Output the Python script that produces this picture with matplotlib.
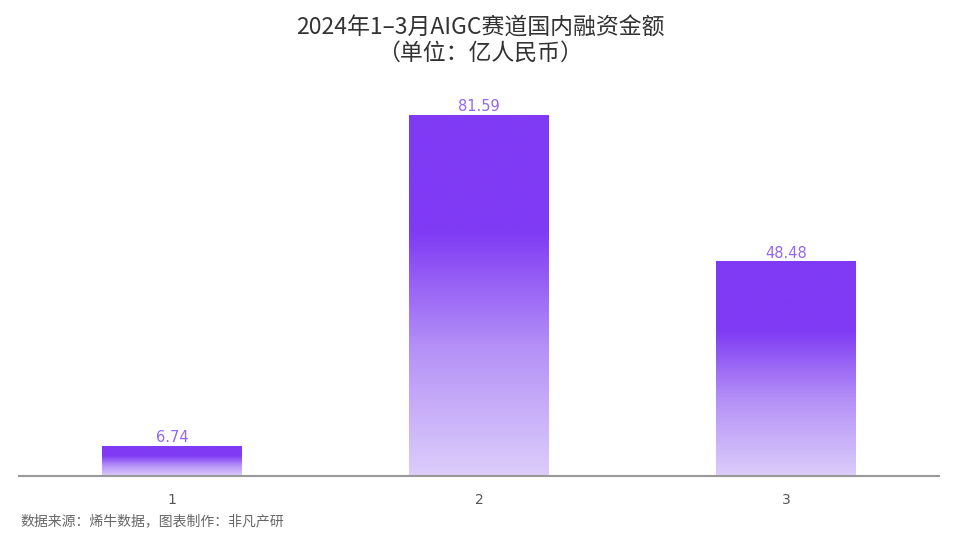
import matplotlib
matplotlib.use("Agg")
import matplotlib.pyplot as plt
import numpy as np
from matplotlib.colors import LinearSegmentedColormap

plt.rcParams['font.family'] = ['Noto Sans CJK SC', 'DejaVu Sans']

categories = ["1", "2", "3"]
values = [6.74, 81.59, 48.48]
title = "2024年1–3月AIGC赛道国内融资金额\n（单位：亿人民币）"
source = "数据来源：烯牛数据，图表制作：非凡产研"

fig = plt.figure(figsize=(9.6, 5.57), dpi=100)
ax = fig.add_axes([0.0195, 0.1454, 0.959, 0.7146])

cmap = LinearSegmentedColormap.from_list(
    "grad", [(0.0, "#DCCDFB"), (0.35, "#B592F7"), (0.68, "#7F3AF4"), (1.0, "#7F3AF4")])
grad = np.linspace(0, 1, 256).reshape(-1, 1)

x = np.arange(len(categories))
width = 0.455
bars = ax.bar(x, values, width=width, color="none", edgecolor="none")
for b, v in zip(bars, values):
    x0 = b.get_x()
    ax.imshow(grad, extent=[x0, x0 + width, 0, v], origin="lower", cmap=cmap,
              aspect="auto", zorder=2, interpolation="bicubic")
    ax.text(b.get_x() + width / 2, v + 0.2, f"{v:.2f}", ha="center", va="bottom",
            color="#9466F5", fontsize=10.5, family="DejaVu Sans", zorder=3)

ax.set_xlim(-0.5, 2.5)
ax.set_ylim(0, 90)
ax.set_xticks(x)
ax.set_xticklabels(categories, color="#555555", fontsize=10, family="DejaVu Sans")
ax.tick_params(axis="x", length=0, pad=12)
ax.set_yticks([])
for s in ["top", "right", "left"]:
    ax.spines[s].set_visible(False)
ax.spines["bottom"].set_color("#999999")
ax.spines["bottom"].set_linewidth(1.5)

fig.text(0.5, 0.97, title, ha="center", va="top", fontsize=16.5, color="#333333",
         linespacing=1.1)
fig.text(0.021, 0.065, source, ha="left", va="center", fontsize=10, color="#666666")

fig.savefig("out.png", dpi=100)
